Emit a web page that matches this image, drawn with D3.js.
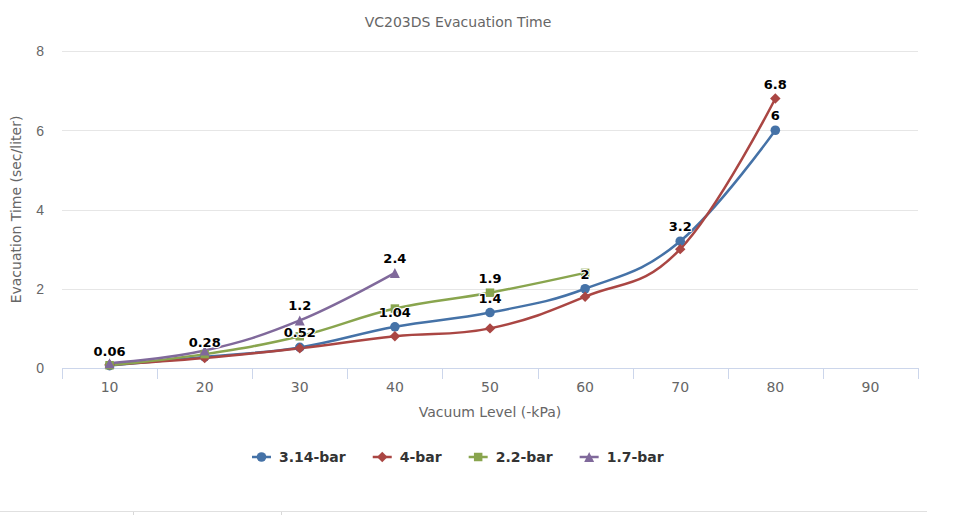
<!DOCTYPE html>
<html>
<head>
<meta charset="utf-8">
<script src="https://cdn.jsdelivr.net/npm/d3@7"></script>
<style>
  html, body { margin: 0; padding: 0; background: #fff; }
  svg { display: block; font-family: "DejaVu Sans", "Open Sans", sans-serif; }
</style>
</head>
<body>
<svg id="chart" width="957" height="515"></svg>
<script>
// ---- data ----
const categories = ["10", "20", "30", "40", "50", "60", "70", "80", "90"];
const yTicks = [0, 2, 4, 6, 8];
const seriesNames = ["3.14-bar", "4-bar", "2.2-bar", "1.7-bar"];
const values314 = [0.06, 0.28, 0.52, 1.04, 1.4, 2, 3.2, 6];
const values4 = [0.08, 0.25, 0.5, 0.8, 1.0, 1.8, 3.0, 6.8];
const values22 = [0.07, 0.35, 0.8, 1.5, 1.9, 2.4];
const values17 = [0.12, 0.44, 1.2, 2.4];
// which data labels are visible (others hidden by overlap in the original)
const labels314 = [true, true, true, true, true, true, true, true];
const labels4 = [false, false, false, false, false, false, false, true];
const labels22 = [false, false, false, false, true, false];
const labels17 = [false, false, true, true];
const colors = ["#4572A7", "#AA4643", "#89A54E", "#80699B"];

// marker shapes (Highcharts-like)
const diamondShape = { draw(ctx, size) { const r = Math.sqrt(size) / 2; ctx.moveTo(0, -r); ctx.lineTo(r, 0); ctx.lineTo(0, r); ctx.lineTo(-r, 0); ctx.closePath(); } };
const triangleShape = { draw(ctx, size) { const r = Math.sqrt(size) / 2; ctx.moveTo(0, -r); ctx.lineTo(r, r); ctx.lineTo(-r, r); ctx.closePath(); } };
const symbols = [d3.symbolCircle, diamondShape, d3.symbolSquare, triangleShape];
const symbolSizes = [72, 110, 72, 100];

const series = [
  { name: seriesNames[0], values: values314, labels: labels314 },
  { name: seriesNames[1], values: values4, labels: labels4 },
  { name: seriesNames[2], values: values22, labels: labels22 },
  { name: seriesNames[3], values: values17, labels: labels17 }
];

// ---- layout ----
const svg = d3.select("#chart");
const plot = { left: 62, right: 918, top: 51, bottom: 368 };

const x = d3.scaleBand().domain(categories).range([plot.left, plot.right]).padding(0);
const y = d3.scaleLinear().domain([0, 8]).range([plot.bottom, plot.top]);

// title
svg.append("text")
  .attr("x", 458).attr("y", 27)
  .attr("text-anchor", "middle")
  .style("font-size", "14px").style("fill", "#666")
  .text("VC203DS Evacuation Time");

// gridlines
svg.append("g").selectAll("line")
  .data(yTicks.filter(d => d !== 0))
  .join("line")
  .attr("x1", plot.left).attr("x2", plot.right)
  .attr("y1", d => Math.round(y(d)) + 0.5).attr("y2", d => Math.round(y(d)) + 0.5)
  .attr("stroke", "#e6e6e6").attr("stroke-width", 1);

// y axis labels
const yAxis = d3.axisLeft(y).tickValues(yTicks).tickSize(0).tickPadding(0);
const yg = svg.append("g").attr("transform", `translate(${plot.left - 18},0)`).call(yAxis);
yg.select(".domain").remove();
yg.selectAll("text").style("font-size", "14px").style("fill", "#666").attr("font-family", null).attr("dy", "0.35em");

// y axis title
svg.append("text")
  .attr("transform", `translate(21,${(plot.top + plot.bottom) / 2}) rotate(-90)`)
  .attr("text-anchor", "middle")
  .style("font-size", "14px").style("fill", "#666")
  .text("Evacuation Time (sec/liter)");

// x axis
const xg = svg.append("g").attr("transform", `translate(0,${plot.bottom})`);
xg.append("line")
  .attr("x1", plot.left).attr("x2", plot.right)
  .attr("y1", 0.5).attr("y2", 0.5)
  .attr("stroke", "#ccd6eb");
const bounds = categories.map(c => x(c)).concat([x(categories[categories.length - 1]) + x.bandwidth()]);
xg.selectAll("line.tick").data(bounds).join("line")
  .attr("class", "tick")
  .attr("x1", d => Math.round(d) + 0.5).attr("x2", d => Math.round(d) + 0.5)
  .attr("y1", 0).attr("y2", 11)
  .attr("stroke", "#ccd6eb");
xg.selectAll("text").data(categories).join("text")
  .attr("x", d => x(d) + x.bandwidth() / 2)
  .attr("y", 24)
  .attr("text-anchor", "middle")
  .style("font-size", "14px").style("fill", "#666")
  .text(d => d);

svg.append("text")
  .attr("x", (plot.left + plot.right) / 2).attr("y", 417)
  .attr("text-anchor", "middle")
  .style("font-size", "14px").style("fill", "#666")
  .text("Vacuum Level (-kPa)");

// lines
const line = d3.line()
  .x((d, i) => x(categories[i]) + x.bandwidth() / 2)
  .y(d => y(d))
  .curve(d3.curveCardinal.tension(-0.2));

const sg = svg.append("g");
series.forEach((s, si) => {
  sg.append("path")
    .attr("d", line(s.values))
    .attr("fill", "none")
    .attr("stroke", colors[si])
    .attr("stroke-width", 2.5);
});
series.forEach((s, si) => {
  sg.append("g").selectAll("path")
    .data(s.values)
    .join("path")
    .attr("transform", (d, i) => `translate(${x(categories[i]) + x.bandwidth() / 2},${y(d)})`)
    .attr("d", d3.symbol().type(symbols[si]).size(symbolSizes[si]))
    .attr("fill", colors[si]);
});
// data labels
series.forEach((s, si) => {
  const g = sg.append("g");
  s.values.forEach((v, i) => {
    if (!s.labels[i]) return;
    const lx = x(categories[i]) + x.bandwidth() / 2;
    const ly = y(v) - 10;
    g.append("text")
      .attr("x", lx).attr("y", ly)
      .attr("text-anchor", "middle")
      .style("font-size", "13px").style("font-weight", "bold")
      .style("fill", "#000")
      .style("stroke", "#fff").style("stroke-width", 2).style("paint-order", "stroke")
      .style("stroke-linejoin", "round")
      .text(String(v));
  });
});

// legend
const legend = svg.append("g");
let lxPos = 252;
series.forEach((s, si) => {
  const item = legend.append("g").attr("transform", `translate(${lxPos},457)`);
  item.append("line").attr("x1", 0).attr("x2", 19).attr("y1", 0).attr("y2", 0)
    .attr("stroke", colors[si]).attr("stroke-width", 2.5);
  item.append("path").attr("transform", "translate(9.5,0)")
    .attr("d", d3.symbol().type(symbols[si]).size(symbolSizes[si]))
    .attr("fill", colors[si]);
  const t = item.append("text").attr("x", 27).attr("y", 5)
    .style("font-size", "14px").style("font-weight", "bold").style("fill", "#333")
    .text(s.name);
  lxPos += 27 + t.node().getComputedTextLength() + 27;
});

// bottom page rule
svg.append("line").attr("x1", 0).attr("x2", 927).attr("y1", 511.5).attr("y2", 511.5)
  .attr("stroke", "#e0e0e0").attr("stroke-width", 1);
svg.append("g").selectAll("line").data([133, 281]).join("line")
  .attr("x1", d => d + 0.5).attr("x2", d => d + 0.5).attr("y1", 512).attr("y2", 515)
  .attr("stroke", "#d8d8d8");
</script>
</body>
</html>
